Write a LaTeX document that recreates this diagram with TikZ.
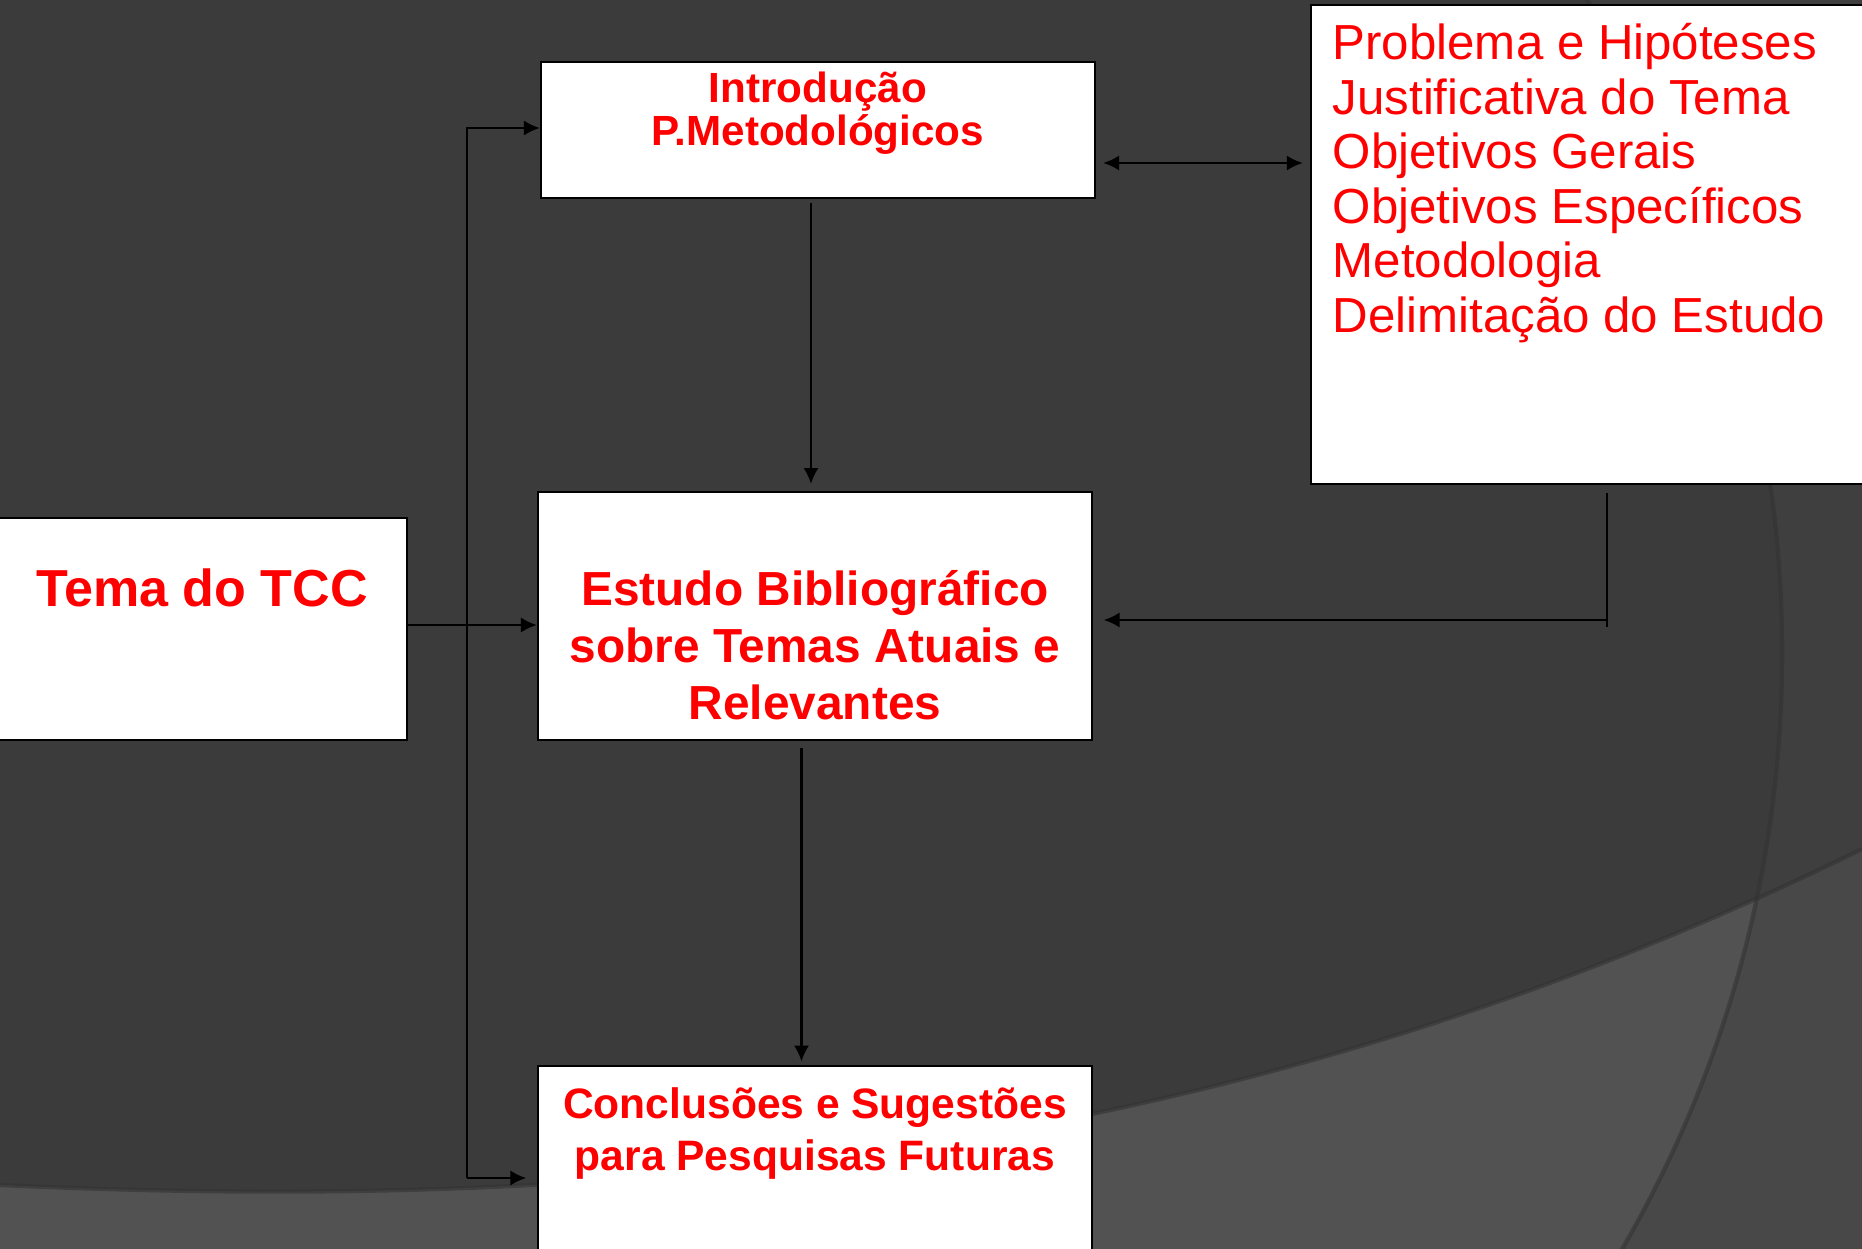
\documentclass[tikz,border=0pt]{standalone}
\usepackage{fontspec}
\setmainfont{Liberation Sans}
\usetikzlibrary{arrows.meta,positioning}

\definecolor{bgdark}{HTML}{3B3B3B}
\definecolor{bgouter}{HTML}{3F3F3F}
\definecolor{bglight}{HTML}{525252}
\definecolor{bglow}{HTML}{484848}
\definecolor{bgshade}{HTML}{333333}
\definecolor{txtred}{HTML}{FF0000}

\tikzset{
    blockbox/.style={draw=black, fill=white, line width=0.6pt, inner sep=0pt},
    blocktext/.style={text=txtred, font=\bfseries, align=center, inner sep=0pt, anchor=north},
    link/.style={draw=black, line width=0.6pt, -{Latex[length=4.5pt,width=4.3pt]}},
    plainlink/.style={draw=black, line width=0.6pt}
}

\begin{document}
\begin{tikzpicture}[x=0.01cm, y=-0.01cm]
    \useasboundingbox (0,0) rectangle (1862,1249);
    \clip (0,0) rectangle (1862,1249);
    % background
    \fill[bgouter] (0,0) rectangle (1862,1249);
    \fill[bgdark] (594,653) circle (11.875cm);
    \fill[bglow] (0,1185) .. controls (650,1215) and (1250,1150) .. (1862,849) -- (1862,1249) -- (0,1249) -- cycle;
    \begin{scope}
        \clip (594,653) circle (11.875cm);
        \fill[bglight] (0,1185) .. controls (650,1215) and (1250,1150) .. (1862,849) -- (1862,1249) -- (0,1249) -- cycle;
    \end{scope}
    \draw[bgshade, line width=1.2pt, opacity=0.6] (594,653) circle (11.875cm);
    \draw[bgshade, line width=1.2pt, opacity=0.6] (0,1185) .. controls (650,1215) and (1250,1150) .. (1862,849);

    % boxes
    \node[blockbox, minimum width=5.54cm, minimum height=1.36cm] (intro) at (818,130) {};
    \node[blockbox, minimum width=5.54cm, minimum height=2.48cm] (estudo) at (815,616) {};
    \node[blockbox, minimum width=4.17cm, minimum height=2.22cm] (tema) at (198.5,629) {};
    \node[blockbox, minimum width=5.54cm, minimum height=2.04cm] (concl) at (815,1168) {};
    \node[blockbox, minimum width=5.92cm, minimum height=4.79cm] (prob) at (1607,244.5) {};

    % texts
    \node[blocktext, font=\fontsize{12}{11.2}\selectfont\bfseries] (introT) at (818,71)
        {Introdução\\P.Metodológicos};
    \node[blocktext, font=\fontsize{13.6}{16.2}\selectfont\bfseries] (estudoT) at (815,570)
        {Estudo Bibliográfico\\sobre Temas Atuais e\\Relevantes};
    \node[blocktext, font=\fontsize{14.8}{17}\selectfont\bfseries] (temaT) at (202,568)
        {Tema do TCC};
    \node[blocktext, font=\fontsize{12.1}{14.8}\selectfont\bfseries] (conclT) at (815,1087)
        {Conclusões e Sugestões\\para Pesquisas Futuras};
    \node[text=txtred, align=left, inner sep=0pt, anchor=north west,
          font=\fontsize{14}{15.5}\selectfont] (probT) at (1332,23)
        {Problema e Hipóteses\\Justificativa do Tema\\Objetivos Gerais\\Objetivos Específicos\\Metodologia\\Delimitação do Estudo};

    % connectors
    \coordinate (ybi) at (0,163);
    \coordinate (ytema) at (0,625);
    \coordinate (spineT) at (467,128);
    \coordinate (spineB) at (467,1178);
    \coordinate (kneeR) at (1607,620);

    \draw[link, shorten <=1pt, shorten >=2pt] ([xshift=-0.07cm]intro.south) -- ([xshift=-0.07cm]intro.south |- estudo.north);
    \draw[link, {Latex[length=4.5pt,width=4.3pt]}-{Latex[length=4.5pt,width=4.3pt]}, shorten <=2pt, shorten >=2pt]
        (intro.east |- ybi) -- (prob.west |- ybi);
    \draw[link] (tema.east |- ytema) -- (estudo.west |- ytema);
    \draw[link] (spineB) -- (spineT) -- (intro.west |- spineT);
    \draw[link, shorten >=3pt] (spineB) -- (concl.west |- spineB);
    \draw[link, shorten <=2pt, shorten >=1pt] ([xshift=-0.135cm]estudo.south) -- ([xshift=-0.135cm]concl.north);
    \draw[plainlink] ([yshift=-0.08cm]prob.south) -- ([yshift=-0.07cm]kneeR);
    \draw[link, shorten >=3pt] (kneeR) -- (estudo.east |- kneeR);
\end{tikzpicture}
\end{document}
